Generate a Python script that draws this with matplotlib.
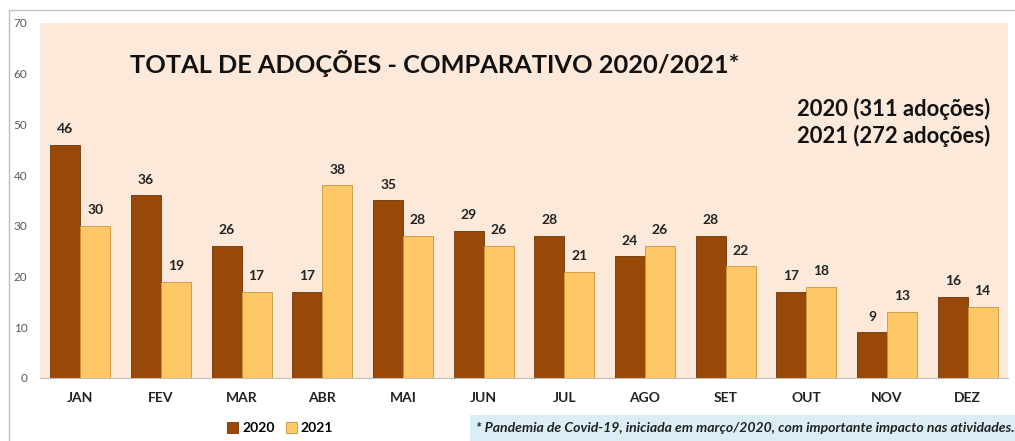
import matplotlib.pyplot as plt
import numpy as np
from matplotlib.patches import Rectangle

plt.rcParams['font.family'] = ['Lato', 'DejaVu Sans']

# Data
months = ['JAN', 'FEV', 'MAR', 'ABR', 'MAI', 'JUN', 'JUL', 'AGO', 'SET', 'OUT', 'NOV', 'DEZ']
adocoes_2020 = [46, 36, 26, 17, 35, 29, 28, 24, 28, 17, 9, 16]
adocoes_2021 = [30, 19, 17, 38, 28, 26, 21, 26, 22, 18, 13, 14]
series_labels = ['2020', '2021']
yticks = [0, 10, 20, 30, 40, 50, 60, 70]

COLOR_2020 = '#984807'
COLOR_2021 = '#FFC866'
BG = '#FDE9DA'

fig = plt.figure(figsize=(10.15, 4.41), dpi=100)
fig.patch.set_facecolor('white')

# outer chart border
fig.add_artist(Rectangle((9 / 1015, -0.01), 1.0, 1 - 10 / 441 + 0.01, transform=fig.transFigure,
                         fill=False, edgecolor='#BFBFBF', linewidth=1))

ax = fig.add_axes([40 / 1015, 1 - 378 / 441, 968 / 1015, 355 / 441])
ax.set_facecolor(BG)

x = np.arange(len(months))
w = 0.37
b1 = ax.bar(x - w / 2, adocoes_2020, w, color=COLOR_2020, edgecolor='#6E3405', linewidth=0.6,
            label=series_labels[0])
b2 = ax.bar(x + w / 2, adocoes_2021, w, color=COLOR_2021, edgecolor='#C8963C', linewidth=0.6,
            label=series_labels[1])

for bars in (b1, b2):
    for rect in bars:
        h = rect.get_height()
        ax.annotate(f'{int(h)}', (rect.get_x() + rect.get_width() / 2, h),
                    xytext=(0, 7), textcoords='offset points', ha='center', va='bottom',
                    fontsize=10, fontweight='bold', color='#222222')

ax.set_xlim(-0.5, len(months) - 0.5)
ax.set_ylim(0, 70)
ax.set_yticks(yticks)
ax.set_xticks(x)
ax.set_xticklabels(months, fontsize=10, fontweight='bold', color='#222222')
ax.tick_params(axis='y', labelsize=8.5, labelcolor='#595959', length=0, pad=9)
ax.tick_params(axis='x', length=0, pad=10)
for s in ['top', 'right', 'left']:
    ax.spines[s].set_visible(False)
ax.spines['bottom'].set_color('#BFBFBF')

ax.text(0.408, 0.885, 'TOTAL DE ADOÇÕES - COMPARATIVO 2020/2021*', transform=ax.transAxes,
        ha='center', va='center', fontsize=18.3, fontweight='bold', color='#111111')
ax.text(0.982, 0.72, '2020 (311 adoções)\n2021 (272 adoções)', transform=ax.transAxes,
        ha='right', va='center', fontsize=15.8, fontweight='bold', color='#111111',
        linespacing=1.3)

fig.legend(handles=[b1, b2], loc='center', bbox_to_anchor=(280 / 1015, 1 - 428 / 441),
           ncol=2, frameon=False, handlelength=0.8, handleheight=0.8,
           columnspacing=0.8, handletextpad=0.3, prop={'weight': 'bold', 'size': 10})

fig.add_artist(Rectangle((470 / 1015, 0), 1.0, 26 / 441, transform=fig.transFigure,
                         facecolor='#DCEEF5', edgecolor='none'))
fig.text(745 / 1015, 1 - 428 / 441,
         '* Pandemia de Covid-19, iniciada em março/2020, com importante impacto nas atividades.',
         ha='center', va='center', fontsize=10.1, fontweight='bold', fontstyle='italic',
         color='#222222')

fig.savefig('out.png', dpi=100, facecolor='white')
